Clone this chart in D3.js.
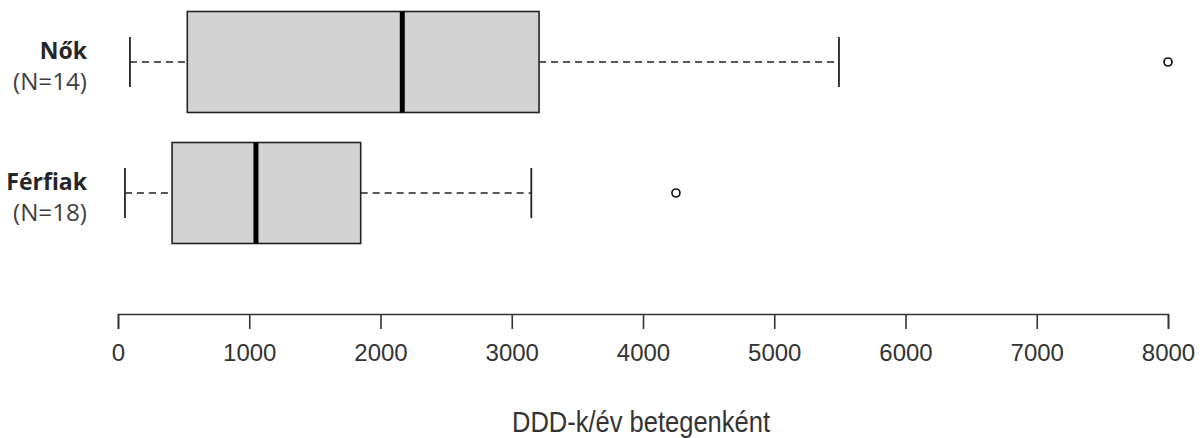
<!DOCTYPE html>
<html>
<head>
<meta charset="utf-8">
<script src="https://cdn.jsdelivr.net/npm/d3@7"></script>
<style>
  html, body { margin: 0; padding: 0; background: #fff; }
  svg { display: block; }
</style>
</head>
<body>
<svg id="chart" width="1203" height="438"></svg>
<script>
// ---- data ----
const categories = ["Nők", "Férfiak"];
const counts = ["(N=14)", "(N=18)"];
const whiskerLow = [91, 53];
const q1 = [528, 412];
const median = [2166, 1051];
const q3 = [3208, 1849];
const whiskerHigh = [5493, 3149];
const outliers = [[8000], [4251]];
const tickValues = [0, 1000, 2000, 3000, 4000, 5000, 6000, 7000, 8000];
const axisTitle = "DDD-k/év betegenként";

// ---- layout ----
const svg = d3.select("#chart");
const x = d3.scaleLinear().domain([0, 8000]).range([118, 1168]);
const y = d3.scalePoint().domain(categories).range([62, 193]);
const boxH = 101;
const capH = 50;

const rows = categories.map((c, i) => ({
  cat: c, n: counts[i], lo: whiskerLow[i], q1: q1[i], med: median[i],
  q3: q3[i], hi: whiskerHigh[i], out: outliers[i]
}));

const g = svg.append("g");

// whiskers (dashed)
g.selectAll("line.wl").data(rows).join("line")
  .attr("x1", d => x(d.lo)).attr("x2", d => x(d.q1))
  .attr("y1", d => y(d.cat)).attr("y2", d => y(d.cat))
  .attr("stroke", "#222").attr("stroke-width", 1.7).attr("stroke-dasharray", "7,5");
g.selectAll("line.wh").data(rows).join("line")
  .attr("x1", d => x(d.q3)).attr("x2", d => x(d.hi))
  .attr("y1", d => y(d.cat)).attr("y2", d => y(d.cat))
  .attr("stroke", "#222").attr("stroke-width", 1.7).attr("stroke-dasharray", "7,5");

// caps
["lo", "hi"].forEach(k => {
  g.selectAll("line.cap-" + k).data(rows).join("line")
    .attr("x1", d => x(d[k])).attr("x2", d => x(d[k]))
    .attr("y1", d => y(d.cat) - capH / 2).attr("y2", d => y(d.cat) + capH / 2)
    .attr("stroke", "#222").attr("stroke-width", 1.8);
});

// boxes
g.selectAll("rect.box").data(rows).join("rect")
  .attr("x", d => x(d.q1)).attr("width", d => x(d.q3) - x(d.q1))
  .attr("y", d => y(d.cat) - boxH / 2).attr("height", boxH)
  .attr("fill", "#d3d3d3").attr("stroke", "#222").attr("stroke-width", 1.6);

// medians
g.selectAll("line.med").data(rows).join("line")
  .attr("x1", d => x(d.med)).attr("x2", d => x(d.med))
  .attr("y1", d => y(d.cat) - boxH / 2).attr("y2", d => y(d.cat) + boxH / 2)
  .attr("stroke", "#000").attr("stroke-width", 5);

// outliers
rows.forEach(d => {
  g.selectAll(null).data(d.out).join("circle")
    .attr("cx", v => x(v)).attr("cy", y(d.cat)).attr("r", 4)
    .attr("fill", "none").attr("stroke", "#111").attr("stroke-width", 1.7);
});

// category labels
const lab = svg.append("g").attr("text-anchor", "end");
lab.selectAll("text.cat").data(rows).join("text")
  .attr("x", 87).attr("y", d => y(d.cat) - 3)
  .attr("font-family", "'Open Sans', 'Noto Sans', sans-serif")
  .attr("font-weight", "bold").attr("font-size", 23).attr("fill", "#262626")
  .text(d => d.cat);
lab.selectAll("text.n").data(rows).join("text")
  .attr("x", 87).attr("y", d => y(d.cat) + 28)
  .attr("font-family", "'Open Sans', 'Noto Sans', sans-serif")
  .attr("font-size", 23).attr("fill", "#404040")
  .attr("textLength", 74).attr("lengthAdjust", "spacingAndGlyphs")
  .text(d => d.n);

// axis
const axis = d3.axisBottom(x).tickValues(tickValues).tickFormat(d3.format("d")).tickSizeOuter(0).tickSize(15);
const ax = svg.append("g").attr("transform", "translate(0,314)").call(axis);
ax.select(".domain").attr("stroke", "#333").attr("stroke-width", 1.6);
ax.selectAll(".tick line").attr("stroke", "#333").attr("stroke-width", 1.6);
ax.selectAll(".tick text")
  .attr("y", 39).attr("dy", "0.32em")
  .attr("font-family", "'Liberation Sans', Arial, sans-serif")
  .attr("font-size", 24).attr("fill", "#333");

// axis title
svg.append("text")
  .attr("x", 641).attr("y", 432)
  .attr("text-anchor", "middle")
  .attr("font-family", "'Liberation Sans', Arial, sans-serif")
  .attr("font-size", 29).attr("fill", "#333")
  .attr("textLength", 258).attr("lengthAdjust", "spacingAndGlyphs")
  .text(axisTitle);
</script>
</body>
</html>
